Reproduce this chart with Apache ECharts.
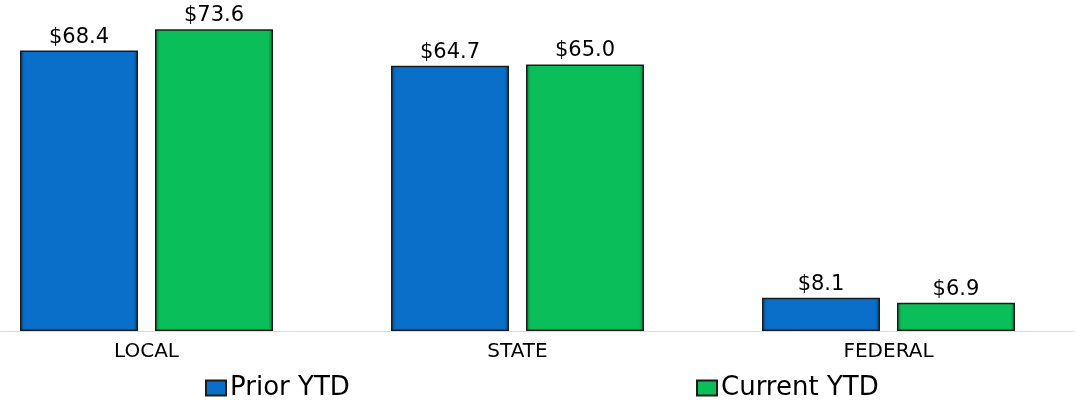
<!DOCTYPE html>
<html>
<head>
<meta charset="utf-8">
<script src="https://cdn.jsdelivr.net/npm/echarts@6/dist/echarts.min.js"></script>
<style>
  html, body { margin: 0; padding: 0; background: #fff; overflow: hidden; }
  /* chart is shifted left so the first band starts off-screen like the original */
  #chart { width: 1115px; height: 401px; margin-left: -39px; }
</style>
</head>
<body>
<div id="chart"></div>
<script>
var categories = ['LOCAL', 'STATE', 'FEDERAL'];
var priorYtd = [68.4, 64.7, 8.1];
var currentYtd = [73.6, 65.0, 6.9];

var font = "'DejaVu Sans', 'Liberation Sans', Arial, sans-serif";
var shift = 39;

function barStyle(base, dark) {
    return {
        color: new echarts.graphic.LinearGradient(0, 0, 1, 0, [
            {offset: 0, color: dark},
            {offset: 0.04, color: base},
            {offset: 0.96, color: base},
            {offset: 1, color: dark}
        ]),
        borderColor: '#1c1c1c',
        borderWidth: 1.5
    };
}

function valueLabel() {
    return {
        show: true,
        position: 'top',
        distance: 3,
        fontFamily: font,
        fontSize: 21,
        color: '#000',
        formatter: function (p) { return '$' + p.value.toFixed(1); }
    };
}

var myChart = echarts.init(document.getElementById('chart'));
var option = {
    animation: false,
    grid: {
        left: 0,
        right: 2,
        top: 3,
        bottom: 70
    },
    legend: [
        {
            left: 200 + shift,
            top: 370,
            icon: 'rect',
            itemWidth: 20,
            itemHeight: 15,
            textStyle: {fontFamily: font, fontSize: 26, color: '#000', padding: [0, 0, 0, -1]},
            data: ['Prior YTD']
        },
        {
            left: 691 + shift,
            top: 370,
            icon: 'rect',
            itemWidth: 20,
            itemHeight: 15,
            textStyle: {fontFamily: font, fontSize: 26, color: '#000', padding: [0, 0, 0, -1]},
            data: ['Current YTD']
        }
    ],
    xAxis: {
        type: 'category',
        data: categories,
        axisLine: {lineStyle: {color: '#d9d9d9', width: 1}},
        axisTick: {show: false},
        axisLabel: {
            fontFamily: font,
            fontSize: 20,
            color: '#000',
            margin: 11
        }
    },
    yAxis: {
        type: 'value',
        min: 0,
        max: 80,
        show: false,
        splitLine: {show: false}
    },
    series: [
        {
            name: 'Prior YTD',
            type: 'bar',
            data: priorYtd,
            barWidth: 118,
            barGap: '14.4%',
            itemStyle: barStyle('#0a6fc9', '#06477f'),
            label: valueLabel()
        },
        {
            name: 'Current YTD',
            type: 'bar',
            data: currentYtd,
            barWidth: 118,
            itemStyle: barStyle('#0abf59', '#06803b'),
            label: valueLabel()
        }
    ]
};
myChart.setOption(option);
</script>
</body>
</html>
